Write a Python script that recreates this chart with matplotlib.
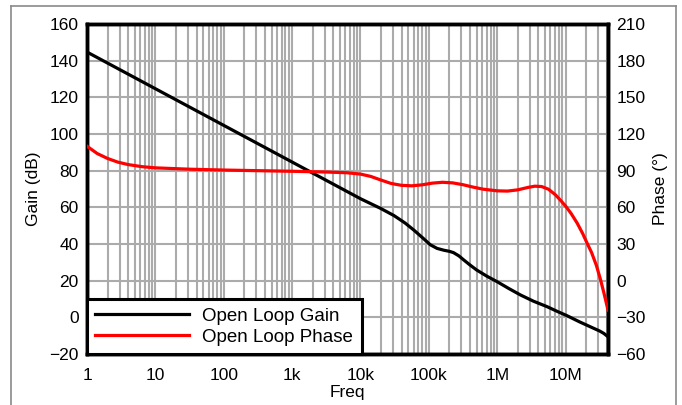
import matplotlib
matplotlib.use("Agg")
import matplotlib.pyplot as plt
from matplotlib.lines import Line2D
import numpy as np

plt.rcParams['font.family'] = ['Liberation Sans', 'DejaVu Sans']

# Gain data: log10(freq) and dB
gain_logf = [0, 1, 2, 3, 4, 4.29, 4.49, 4.65, 4.78, 4.92, 5.02, 5.12, 5.22, 5.30, 5.36, 5.44, 5.51,
             5.60, 5.70, 5.85, 6.0, 6.17, 6.34, 6.53, 6.73, 6.88, 7.02, 7.2, 7.37, 7.5, 7.56, 7.62]
gain_db = [144.7, 124.7, 104.7, 84.7, 64.7, 59.5, 55.5, 51.5, 47.6, 43.0, 39.6, 37.6, 36.6, 36.0, 35.3, 33.5, 31.3,
           28.6, 25.8, 22.4, 19.4, 15.7, 12.2, 8.8, 5.8, 3.2, 0.9, -2.4, -5.3, -7.5, -8.8, -10.6]

# Phase data: log10(freq) and degrees
phase_logf = [0, 0.15, 0.3, 0.45, 0.6, 0.8, 1.0, 1.5, 2.0, 2.5, 3.0, 3.5, 3.8, 4.0, 4.15, 4.3, 4.45, 4.6, 4.75,
              4.9, 5.05, 5.2, 5.35, 5.5, 5.65, 5.8, 6.0, 6.15, 6.3, 6.45, 6.55, 6.65, 6.75, 6.85, 6.93, 7.0,
              7.08, 7.17, 7.25, 7.32, 7.38, 7.45, 7.51, 7.56, 7.62]
phase_deg = [110, 104, 100, 97, 95, 93.3, 92.3, 91.2, 90.5, 90.0, 89.5, 88.9, 88.3, 87.2, 85.3, 82.3, 79.5, 78.0, 77.6,
             78.4, 79.8, 80.5, 80.0, 78.5, 76.5, 74.8, 73.5, 73.3, 74.3, 76.3, 77.3, 77.0, 74.8, 70.3, 65.5, 61.0,
             55.0, 47.0, 38.5, 30.0, 23.0, 12.5, 1.0, -10.0, -24.0]

gain_label = "Open Loop Gain"
phase_label = "Open Loop Phase"
xtick_vals = [1, 10, 100, 1e3, 1e4, 1e5, 1e6, 1e7]
xtick_labels = ["1", "10", "100", "1k", "10k", "100k", "1M", "10M"]
left_ticks = [-20, 0, 20, 40, 60, 80, 100, 120, 140, 160]
right_ticks = [-60, -30, 0, 30, 60, 90, 120, 150, 180, 210]

gain_f = [10 ** v for v in gain_logf]
phase_f = [10 ** v for v in phase_logf]
xmax = 10 ** 7.62

fs = 12.5
fig = plt.figure(figsize=(6.82, 4.05), dpi=100)
ax = fig.add_axes([87 / 682, 51 / 405, (608 - 87) / 682, (354 - 24) / 405])
ax2 = ax.twinx()

ax.set_xscale('log')
ax.set_xlim(1, xmax)
ax.set_ylim(-20, 160)
ax2.set_ylim(-60, 210)

grid_c = '#ababab'
ax.grid(True, which='both', axis='x', color=grid_c, lw=1.5)
ax.grid(True, which='major', axis='y', color=grid_c, lw=1.5)
ax.set_axisbelow(True)

ax.set_xticks(xtick_vals)
ax.set_xticklabels(xtick_labels)
ax.set_yticks(left_ticks)
ax2.set_yticks(right_ticks)
ax.tick_params(axis='x', which='both', length=0, pad=10, labelsize=fs)
ax.tick_params(axis='y', length=0, pad=6, labelsize=fs)
ax2.tick_params(axis='y', length=0, pad=6, labelsize=fs)

l1, = ax.plot(gain_f, gain_db, color='black', lw=2.3, zorder=3)
l2, = ax2.plot(phase_f, phase_deg, color='#ff0000', lw=2.3, zorder=3)

for a in (ax, ax2):
    for s in a.spines.values():
        s.set_linewidth(2.5)
        s.set_color('black')

ax.set_ylabel("Gain (dB)", fontsize=fs, labelpad=6)
ax2.set_ylabel("Phase (°)", fontsize=fs, labelpad=5)
ax.set_xlabel("Freq", fontsize=fs, labelpad=1.5)

leg = ax2.legend([l1, l2], [gain_label, phase_label], loc='lower left', bbox_to_anchor=(0, 0),
                 borderaxespad=0, fontsize=13.5, handlelength=5.0, handletextpad=0.7,
                 labelspacing=0.2, fancybox=False, framealpha=1, edgecolor='black',
                 borderpad=0.45)
leg.get_frame().set_linewidth(2.2)

# outer frame lines
border_c = '#8a8a8a'
fig.add_artist(Line2D([11 / 682, 676 / 682], [1 - 6 / 405, 1 - 6 / 405], color=border_c, lw=1.2, transform=fig.transFigure))
fig.add_artist(Line2D([11 / 682, 11 / 682], [0, 1 - 6 / 405], color=border_c, lw=1.2, transform=fig.transFigure))
fig.add_artist(Line2D([676 / 682, 676 / 682], [0, 1 - 6 / 405], color=border_c, lw=1.2, transform=fig.transFigure))

fig.savefig("out.png", dpi=100)
